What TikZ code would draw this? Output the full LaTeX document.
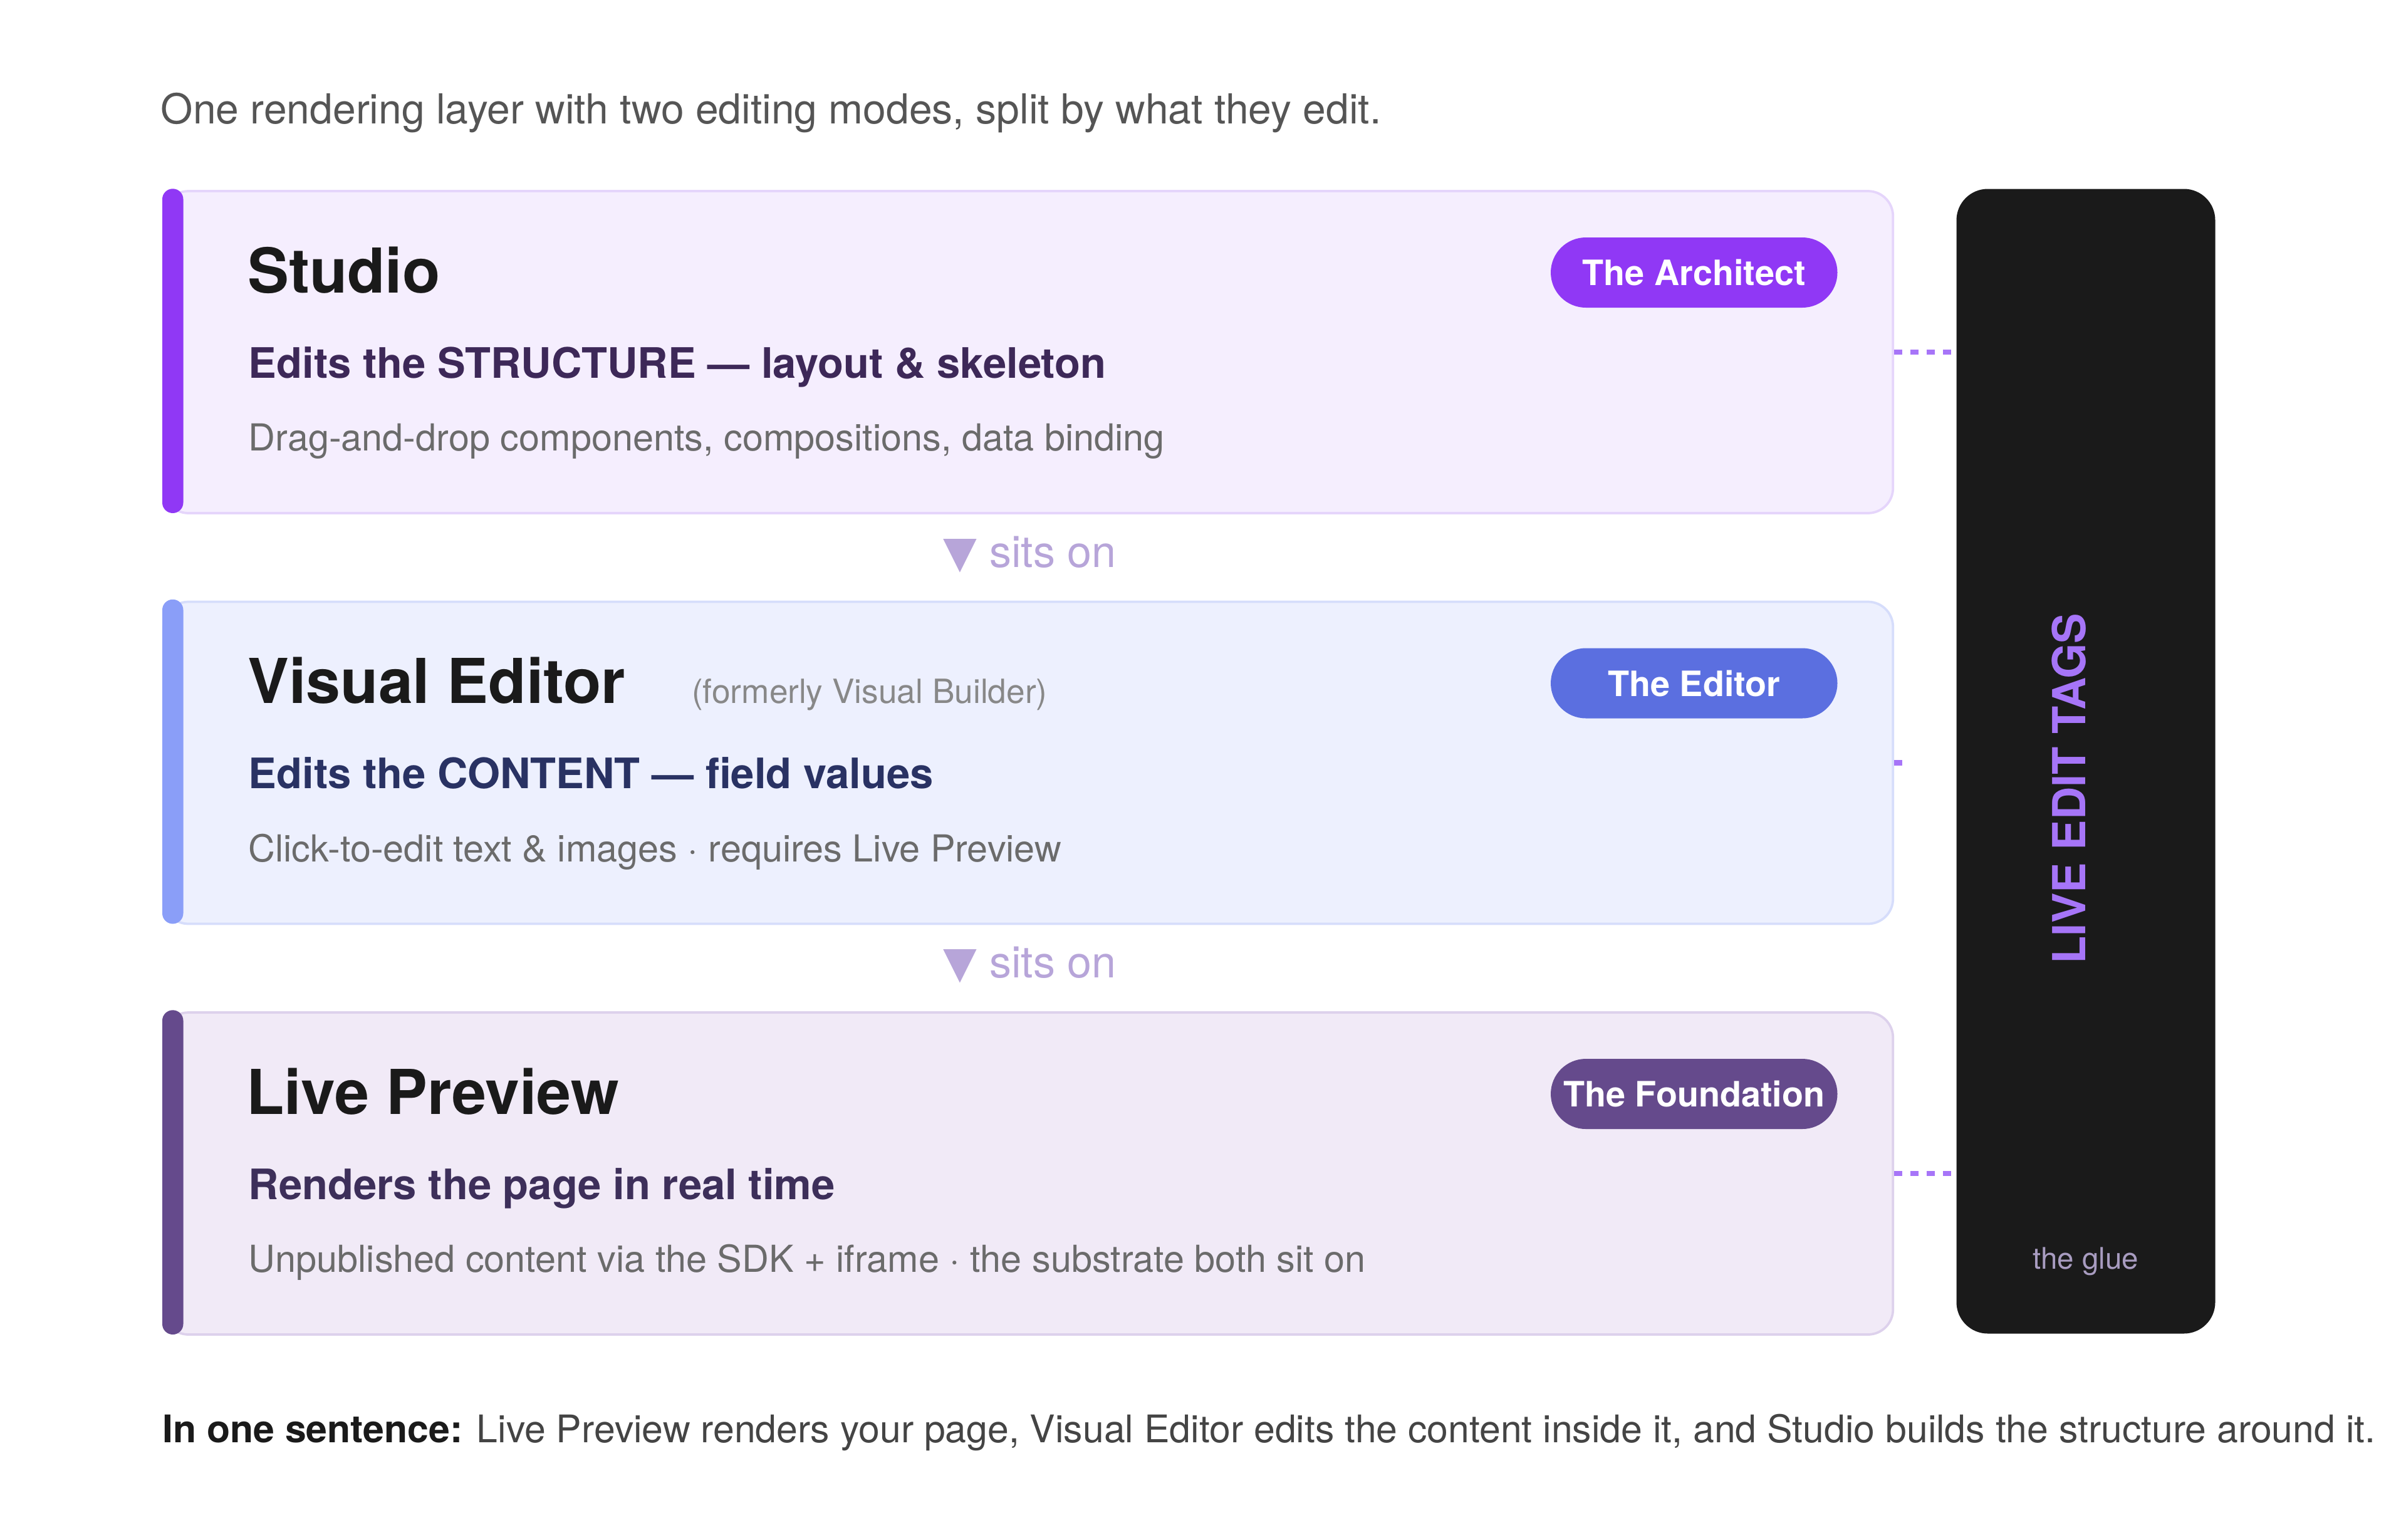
\documentclass[tikz,border=0pt]{standalone}
\usepackage{fontspec}
\setmainfont{TeX Gyre Heros}
\newfontfamily\dvfont{DejaVu Sans}
\definecolor{studiofill}{HTML}{F5EEFE}
\definecolor{studioborder}{HTML}{E5D5FB}
\definecolor{studiobar}{HTML}{9038F5}
\definecolor{studiosub}{HTML}{3D2858}
\definecolor{vefill}{HTML}{EDF0FE}
\definecolor{veborder}{HTML}{D6DDFB}
\definecolor{vebar}{HTML}{8A9EF8}
\definecolor{vepill}{HTML}{5B6FE0}
\definecolor{vesub}{HTML}{293263}
\definecolor{lpfill}{HTML}{F1EAF7}
\definecolor{lpborder}{HTML}{DDD1EC}
\definecolor{lpbar}{HTML}{654A8C}
\definecolor{lpsub}{HTML}{3D2F5A}
\definecolor{gluebg}{HTML}{1A1A1A}
\definecolor{tagpurple}{HTML}{A675F8}
\definecolor{gluetext}{HTML}{A89CC0}
\definecolor{connc}{HTML}{A775F8}
\definecolor{sitson}{HTML}{B7A5D9}
\definecolor{headc}{HTML}{1A1A1A}
\definecolor{titlec}{HTML}{555555}
\definecolor{descc}{HTML}{6B6B6B}
\definecolor{formerc}{HTML}{888888}
\definecolor{bottomc}{HTML}{444444}
\newcommand\fsz[1]{\fontsize{#1}{#1}\selectfont}
\begin{document}
\begin{tikzpicture}[x=1pt,y=-1pt,
  layerbox/.style={draw=#1, line width=1.5pt, rounded corners=16pt, anchor=north west,
    minimum width=1104.2pt, minimum height=205.6pt, inner sep=0pt},
  accentbar/.style={fill=#1, rounded corners=6.7pt},
  heading/.style={anchor=base west, inner sep=0pt, text=headc, font=\fsz{39.5}\bfseries},
  subhead/.style={anchor=base west, inner sep=0pt, text=#1, font=\fsz{26.8}\bfseries},
  desc/.style={anchor=base west, inner sep=0pt, text=descc, font=\fsz{23.75}},
  pill/.style={fill=#1, rounded corners=22.4pt, minimum width=183pt, minimum height=44.8pt,
    inner sep=0pt, text=white, font=\fsz{22.3}\bfseries},
  sitsonlbl/.style={anchor=base, inner sep=0pt, text=sitson, font=\fsz{28}},
  conn/.style={draw=connc, line width=3.3pt, dash pattern=on 5.2pt off 5.2pt}]
\useasboundingbox (0,0) rectangle (1536,982.8);

% title
\node[anchor=base west, inner sep=0pt, text=titlec, font=\fsz{26.4}] (title) at (102.5,79)
  {One rendering layer with two editing modes, split by what they edit.};

% layer boxes
\node[layerbox=studioborder, fill=studiofill] (studio) at (103.55,121.25) {};
\node[layerbox=veborder, fill=vefill] (ve) at (103.55,383.45) {};
\node[layerbox=lpborder, fill=lpfill] (lp) at (103.55,645.65) {};

% accent bars
\fill[accentbar=studiobar] (103.6,120.5) rectangle (117,327.6);
\fill[accentbar=vebar] (103.6,382.7) rectangle (117,589.8);
\fill[accentbar=lpbar] (103.6,644.9) rectangle (117,852);

% Studio
\node[heading] (studioh) at (158,186.8) {Studio};
\node[subhead=studiosub] (studios) at (158.5,241.2) {Edits the STRUCTURE — layout \& skeleton};
\node[desc] (studiod) at (158.5,287.9) {Drag-and-drop components, compositions, data binding};
\node[pill=studiobar] (archpill) at (1081.5,174) {The Architect};

% Visual Editor
\node[heading] (veh) at (158,449) {Visual Editor};
\node[anchor=base west, inner sep=0pt, text=formerc, font=\fsz{21.3}] (vef) at (441.5,449) {(formerly Visual Builder)};
\node[subhead=vesub] (ves) at (158.5,503.4) {Edits the CONTENT — field values};
\node[desc] (ved) at (158.5,550.1) {Click-to-edit text \& images · requires Live Preview};
\node[pill=vepill] (edpill) at (1081.5,436.2) {The Editor};

% Live Preview
\node[heading] (lph) at (157,711.2) {Live Preview};
\node[subhead=lpsub] (lps) at (158.5,765.6) {Renders the page in real time};
\node[desc] (lpd) at (158.5,812.3) {Unpublished content via the SDK + iframe · the substrate both sit on};
\node[pill=lpbar] (fdpill) at (1081.5,698.4) {The Foundation};

% sits on labels
\node[sitsonlbl] (sits1) at (657.5,362) {{\dvfont ▼} sits on};
\node[sitsonlbl] (sits2) at (657.5,624.2) {{\dvfont ▼} sits on};

% glue column
\node[fill=gluebg, rounded corners=20pt, anchor=north west, minimum width=165.2pt,
  minimum height=730.8pt, inner sep=0pt] (glue) at (1248.8,120.4) {};
\node[rotate=90, anchor=base, inner sep=0pt, text=tagpurple, font=\fsz{29}\bfseries] (tags)
  at (1331.4,503.5) {LIVE EDIT TAGS};
\node[anchor=base, inner sep=0pt, text=gluetext, font=\fsz{19}] (gluelbl) at (1331.5,810) {the glue};

% connectors
\draw[conn] (studio.east) -- (studio.east -| glue.west);
\draw[conn] (ve.east) -- ([xshift=5.2pt]ve.east);
\draw[conn] (lp.east) -- (lp.east -| glue.west);

% bottom sentence
\node[anchor=base west, inner sep=0pt, text=bottomc, font=\fsz{24.3}] (bottom) at (103.5,921)
  {{\color{headc}\bfseries In one sentence:} Live Preview renders your page, Visual Editor edits the content inside it, and Studio builds the structure around it.};
\end{tikzpicture}
\end{document}
